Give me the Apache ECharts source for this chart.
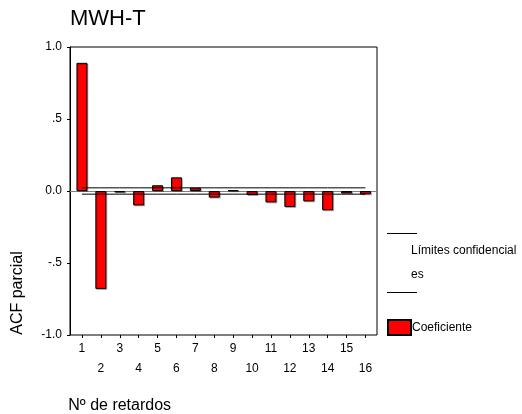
<!DOCTYPE html>
<html>
<head>
<meta charset="utf-8">
<script src="https://cdn.jsdelivr.net/npm/echarts@6/dist/echarts.min.js"></script>
<style>html,body{margin:0;padding:0;background:#fff}#c{width:522px;height:414px}</style>
</head>
<body>
<div id="c"></div>
<script>
var lags = ['1','2','3','4','5','6','7','8','9','10','11','12','13','14','15','16'];
var pacf = [0.89, -0.68, -0.01, -0.10, 0.04, 0.095, 0.023, -0.046, 0.005, -0.028, -0.079, -0.111, -0.072, -0.134, -0.017, -0.023];
var upperLimit = [0.022,0.022,0.022,0.022,0.022,0.022,0.022,0.022,0.022,0.022,0.022,0.022,0.022,0.022,0.022,0.022];
var lowerLimit = [-0.022,-0.022,-0.022,-0.022,-0.022,-0.022,-0.022,-0.022,-0.022,-0.022,-0.022,-0.022,-0.022,-0.022,-0.022,-0.022];
var yTickValues = [-1, -0.5, 0, 0.5, 1];
var yTickLabels = ['-1.0', '-.5', '0.0', '.5', '1.0'];

var FONT = "'Liberation Sans', Arial, sans-serif";
var chart = echarts.init(document.getElementById('c'), null, {renderer: 'canvas'});
chart.setOption({
  animation: false,
  textStyle: {fontFamily: FONT, color: '#000'},
  title: {
    text: 'MWH-T', left: 65, top: 3,
    textStyle: {fontFamily: FONT, fontSize: 22, fontWeight: 'normal', color: '#000'}
  },
  legend: [
    {
      data: ['Límites confidenciales'], selectedMode: false,
      left: 387, top: 227, itemWidth: 30, itemHeight: 60, padding: 0,
      icon: 'path://M0,0h30v1h-30z M0,59h30v1h-30z',
      formatter: function () { return 'Límites confidencial\nes'; },
      textStyle: {fontFamily: FONT, fontSize: 12, color: '#000', lineHeight: 24, padding: [24, 0, 0, -11]}
    },
    {
      data: ['Coeficiente'], selectedMode: false,
      left: 387, top: 319, itemWidth: 23, itemHeight: 15, padding: 0, icon: 'rect',
      textStyle: {fontFamily: FONT, fontSize: 12, color: '#000', padding: [0, 0, 0, -4]}
    }
  ],
  grid: [
    {left: 70, top: 47, width: 307, height: 288, show: true, borderColor: '#000', borderWidth: 1,
      backgroundColor: 'transparent', containLabel: false, outerBoundsMode: 'none'},
    {left: 72.5, top: 47, width: 302.4, height: 288, containLabel: false, outerBoundsMode: 'none'}
  ],
  xAxis: [
    {
      gridIndex: 0, type: 'value', min: 0, max: 1,
      axisLine: {show: true, onZero: true, lineStyle: {color: '#808080', width: 1}},
      axisTick: {show: false}, axisLabel: {show: false}, splitLine: {show: false}
    },
    {
      gridIndex: 1, type: 'category', data: lags,
      axisLine: {show: false, onZero: false},
      axisTick: {show: true, alignWithLabel: true, length: 3, lineStyle: {color: '#000'}},
      axisLabel: {
        interval: 0, margin: 4, fontSize: 12, color: '#000', fontFamily: FONT, lineHeight: 19.5,
        formatter: function (v, i) { return (i % 2 === 1) ? '\n' + v : v; }
      },
      name: 'Nº de retardos', nameLocation: 'middle', nameGap: 63,
      nameTextStyle: {fontFamily: FONT, fontSize: 16, color: '#000', padding: [0, 208, 0, 0]}
    }
  ],
  yAxis: [
    {
      gridIndex: 0, type: 'value', min: -1, max: 1, interval: 0.5,
      axisLine: {show: true, lineStyle: {color: '#000', width: 1}},
      axisTick: {show: true, length: 3, lineStyle: {color: '#000'}},
      axisLabel: {
        margin: 8, fontSize: 12, color: '#000', fontFamily: FONT,
        formatter: function (v) {
          for (var i = 0; i < yTickValues.length; i++) { if (Math.abs(yTickValues[i] - v) < 1e-9) return yTickLabels[i]; }
          return '';
        }
      },
      splitLine: {show: false},
      name: 'ACF parcial', nameLocation: 'middle', nameRotate: 90, nameGap: 44,
      nameTextStyle: {fontFamily: FONT, fontSize: 16, color: '#000', padding: [0, 204, 0, 0]}
    },
    {gridIndex: 1, type: 'value', min: -1, max: 1, show: false}
  ],
  series: [
    {
      name: 'Coeficiente', type: 'bar', xAxisIndex: 1, yAxisIndex: 1, data: pacf, barWidth: 11,
      itemStyle: {color: '#ff0000', borderColor: '#000', borderWidth: 1,
        shadowColor: 'rgba(0,0,0,0.25)', shadowOffsetX: 1, shadowOffsetY: 1, shadowBlur: 0}
    },
    {
      name: 'Límites confidenciales', type: 'line', xAxisIndex: 1, yAxisIndex: 1, data: upperLimit,
      showSymbol: false, symbol: 'none', color: '#000', lineStyle: {color: '#000', width: 1}, z: 5
    },
    {
      name: 'Límites confidenciales', type: 'line', xAxisIndex: 1, yAxisIndex: 1, data: lowerLimit,
      showSymbol: false, symbol: 'none', color: '#000', lineStyle: {color: '#000', width: 1}, z: 5
    }
  ]
});
</script>
</body>
</html>
